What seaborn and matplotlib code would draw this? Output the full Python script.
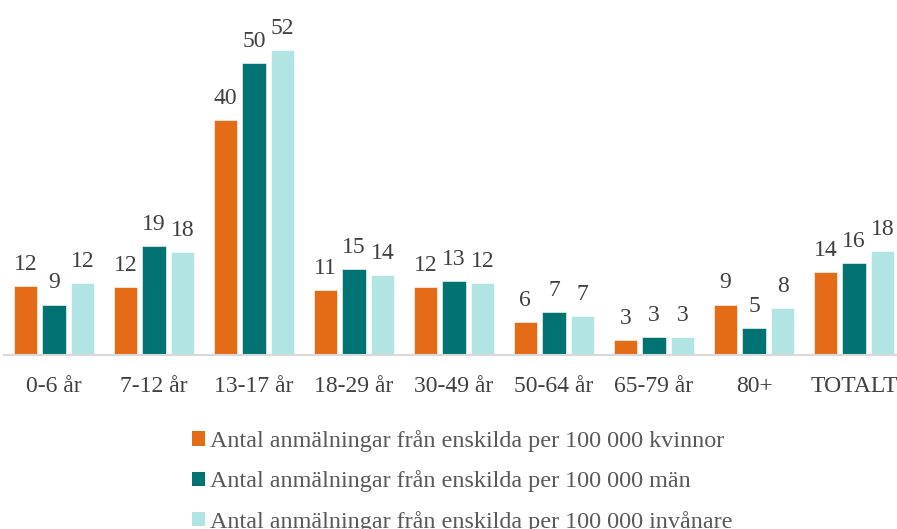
import pandas as pd
import matplotlib
matplotlib.use("Agg")
import matplotlib.pyplot as plt
import seaborn as sns
from matplotlib.patches import Patch

# data
grupper = ["0-6 år", "7-12 år", "13-17 år", "18-29 år", "30-49 år",
           "50-64 år", "65-79 år", "80+", "TOTALT"]
serier = [
    "Antal anmälningar från enskilda per 100 000 kvinnor",
    "Antal anmälningar från enskilda per 100 000 män",
    "Antal anmälningar från enskilda per 100 000 invånare",
]
kvinnor = [11.8, 11.6, 40.0, 11.0, 11.6, 5.6, 2.6, 8.6, 14.1]
man = [8.6, 18.6, 49.7, 14.6, 12.6, 7.3, 3.0, 4.6, 15.6]
invanare = [12.2, 17.6, 51.9, 13.6, 12.2, 6.6, 3.0, 8.0, 17.7]
farger = ["#E46C16", "#007272", "#B3E4E4"]

df = pd.DataFrame({
    "grupp": grupper * 3,
    "serie": [serier[0]] * 9 + [serier[1]] * 9 + [serier[2]] * 9,
    "varde": kvinnor + man + invanare,
})

sns.set_style("white")
plt.rcParams["font.family"] = ["Liberation Serif", "DejaVu Serif"]
textfarg = "#404040"
fs = 17

fig = plt.figure(figsize=(8.97, 5.29), dpi=100)
ax = fig.add_axes([4 / 897, 0.329, 1 - 4 / 897, 0.671])

sns.barplot(data=df, x="grupp", y="varde", hue="serie", palette=farger,
            saturation=1, width=0.86, gap=0.175, legend=False, ax=ax,
            edgecolor="white", linewidth=0.4)

for cont in ax.containers:
    ax.bar_label(cont, fmt="%.0f", padding=8, fontsize=fs, color=textfarg)

ax.set_xlim(-0.5, 8.43)
ax.set_ylim(0, 60.5)
ax.set_xlabel("")
ax.set_ylabel("")
ax.set_yticks([])
ax.tick_params(axis="x", length=0, pad=15, labelsize=fs, labelcolor=textfarg)
for s in ["top", "left", "right"]:
    ax.spines[s].set_visible(False)
ax.spines["bottom"].set_color("#D9D9D9")
ax.spines["bottom"].set_linewidth(1.5)

handles = [Patch(facecolor=c, edgecolor="none") for c in farger]
fig.legend(handles, serier, loc="upper left", bbox_to_anchor=(180 / 897, 1 - 418 / 529),
           frameon=False, fontsize=17.4, labelcolor="#595959", handlelength=0.55,
           handleheight=0.55, handletextpad=0.2, labelspacing=0.76, borderpad=0)

fig.savefig("out.png", dpi=100)
